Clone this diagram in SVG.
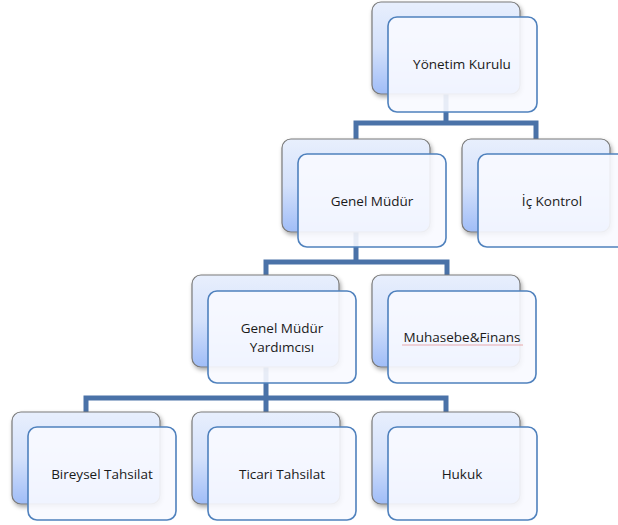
<svg xmlns="http://www.w3.org/2000/svg" width="618" height="525" viewBox="0 0 618 525">
<defs>
<linearGradient id="bg" x1="0" y1="0" x2="0" y2="1">
<stop offset="0" stop-color="#e8effd"/>
<stop offset="0.5" stop-color="#d4e1fb"/>
<stop offset="1" stop-color="#a0bdf7"/>
</linearGradient>
<filter id="sh" x="-10%" y="-10%" width="125%" height="130%">
<feDropShadow dx="1.5" dy="2.5" stdDeviation="2" flood-color="#000" flood-opacity="0.35"/>
</filter>
<style>
.back{fill:url(#bg);stroke:#7a7a7a;stroke-width:1.2;filter:url(#sh)}
.front{fill:#f8faff;fill-opacity:0.9;stroke:#4f81bd;stroke-width:1.6}
.conn{fill:none;stroke:#4a72a8;stroke-width:5;stroke-linejoin:miter}
text{font-family:"Open Sans","Liberation Sans",sans-serif;font-size:13.5px;fill:#1a1a1a;text-anchor:middle}
</style>
</defs>
<rect width="618" height="525" fill="#ffffff"/>
<g id="connectors">
<path class="conn" d="M446 94 V123 M356 139 V123 H536 V139"/>
<path class="conn" d="M356 232 V262 M266 275 V262 H447 V275"/>
<path class="conn" d="M266 367 V398 M86 412 V398 H446 V412 M266 398 V412"/>
</g>
<g id="yonetim">
<rect class="back" x="372" y="2" width="148" height="92" rx="9"/>
<rect class="front" x="388" y="17" width="149" height="95" rx="9"/>
<text x="462" y="69">Yönetim Kurulu</text>
</g>
<g id="genel-mudur">
<rect class="back" x="282" y="139" width="148" height="93" rx="9"/>
<rect class="front" x="298" y="154" width="148" height="93" rx="9"/>
<text x="372" y="206">Genel Müdür</text>
</g>
<g id="ic-kontrol">
<rect class="back" x="462" y="139" width="148" height="93" rx="9"/>
<rect class="front" x="478" y="154" width="148" height="93" rx="9"/>
<text x="552" y="206">İç Kontrol</text>
</g>
<g id="gmy">
<rect class="back" x="192" y="275" width="147" height="92" rx="9"/>
<rect class="front" x="208" y="291" width="148" height="92" rx="9"/>
<text x="282" y="333">Genel Müdür</text>
<text x="282" y="352">Yardımcısı</text>
</g>
<g id="muhasebe">
<rect class="back" x="372" y="275" width="148" height="92" rx="9"/>
<rect class="front" x="388" y="291" width="148" height="92" rx="9"/>
<text x="462" y="342">Muhasebe&amp;Finans</text>
<path d="M402 345 H523" stroke="#e07070" stroke-width="0.8" opacity="0.7"/>
</g>
<g id="bireysel">
<rect class="back" x="12" y="412" width="148" height="92" rx="9"/>
<rect class="front" x="28" y="427" width="148" height="93" rx="9"/>
<text x="102" y="479">Bireysel Tahsilat</text>
</g>
<g id="ticari">
<rect class="back" x="192" y="412" width="148" height="92" rx="9"/>
<rect class="front" x="208" y="427" width="148" height="93" rx="9"/>
<text x="282" y="479">Ticari Tahsilat</text>
</g>
<g id="hukuk">
<rect class="back" x="372" y="412" width="148" height="92" rx="9"/>
<rect class="front" x="388" y="427" width="149" height="93" rx="9"/>
<text x="462" y="479">Hukuk</text>
</g>
</svg>
